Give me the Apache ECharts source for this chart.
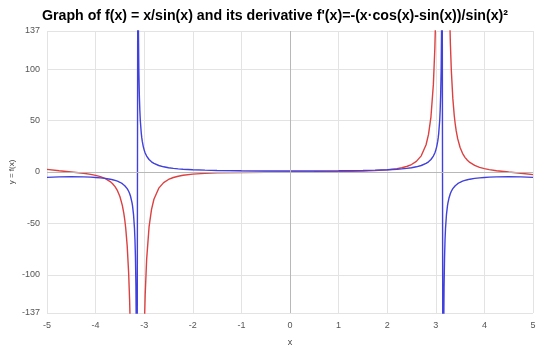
<!DOCTYPE html>
<html>
<head>
<meta charset="utf-8">
<script src="https://cdn.jsdelivr.net/npm/echarts@6/dist/echarts.min.js"></script>
<style>html,body{margin:0;padding:0;background:#fff}#c{width:550px;height:350px}</style>
</head>
<body>
<div id="c"></div>
<script>
var xValues = [-5, -4.75, -4.5, -4.25, -4.1, -4, -3.9, -3.8, -3.7, -3.65, -3.6, -3.55, -3.5, -3.45, -3.42, -3.4, -3.38, -3.35, -3.32, -3.3, -3.28, -3.27, -3.25, -3.24, -3.22, -3.2, -3.19, -3.18, -3.17, -3.16, -3.15, -3.13, -3.12, -3.11, -3.1, -3.09, -3.08, -3.06, -3.05, -3.04, -3.02, -3, -2.98, -2.95, -2.9, -2.85, -2.8, -2.7, -2.6, -2.5, -2.4, -2.3, -2.2, -2, -1.75, -1.5, -1, -0.5,
  0, 0.5, 1, 1.5, 1.75, 2, 2.2, 2.3, 2.4, 2.5, 2.6, 2.7, 2.8, 2.85, 2.9, 2.95, 2.98, 3, 3.02, 3.04, 3.05, 3.06, 3.08, 3.09, 3.1, 3.11, 3.12, 3.13, 3.15, 3.16, 3.17, 3.18, 3.19, 3.2, 3.22, 3.24, 3.25, 3.27, 3.28, 3.3, 3.32, 3.35, 3.38, 3.4, 3.42, 3.45, 3.5, 3.55, 3.6, 3.65, 3.7, 3.8, 3.9, 4, 4.1, 4.25, 4.5, 4.75, 5];

var fValues = [-5.214, -4.753, -4.604, -4.749, -5.011, -5.285, -5.671, -6.211, -6.983, -7.499, -8.135, -8.938, -9.978, -11.37, -12.44, -13.31, -14.31, -16.20, -18.71, -20.92, -23.78, -25.54, -30.04, -32.98, -41.11, -54.82, -65.92, -82.82, -111.6, -171.7, -374.7, 270.0, 144.5, 98.46, 74.55, 59.92, 50.04, 37.54, 33.35, 29.97, 24.90, 21.26, 18.51, 15.49, 12.12, 9.914, 8.359, 6.318, 5.044, 4.177, 3.553, 3.084, 2.721, 2.200, 1.778, 1.504, 1.188, 1.043,
  1, 1.043, 1.188, 1.504, 1.778, 2.200, 2.721, 3.084, 3.553, 4.177, 5.044, 6.318, 8.359, 9.914, 12.12, 15.49, 18.51, 21.26, 24.90, 29.97, 33.35, 37.54, 50.04, 59.92, 74.55, 98.46, 144.5, 270.0, -374.7, -171.7, -111.6, -82.82, -65.92, -54.82, -41.11, -32.98, -30.04, -25.54, -23.78, -20.92, -18.71, -16.20, -14.31, -13.31, -12.44, -11.37, -9.978, -8.938, -8.135, -7.499, -6.983, -6.211, -5.671, -5.285, -5.011, -4.749, -4.604, -4.753, -5.214];

var dfValues = [2.585, 1.180, 0.0303, -1.250, -2.298, -3.244, -4.531, -6.394, -9.291, -11.40, -14.23, -18.14, -23.79, -32.38, -39.90, -46.42, -54.66, -71.77, -98.11, -124.6, -163.5, -190.0, -266.8, -323.8, -510.5, -920.4, -1340, -2129, -3892, -9271, -44440, -23374, -6738, -3148, -1815, -1180, -827.6, -471.4, -374.0, -303.8, -212.0, -156.2, -119.7, -85.12, -53.37, -36.51, -26.50, -15.70, -10.32, -7.263, -5.359, -4.097, -3.218, -2.106, -1.338, -0.8959, -0.4253, -0.1768,
  0, 0.1768, 0.4253, 0.8959, 1.338, 2.106, 3.218, 4.097, 5.359, 7.263, 10.32, 15.70, 26.50, 36.51, 53.37, 85.12, 119.7, 156.2, 212.0, 303.8, 374.0, 471.4, 827.6, 1180, 1815, 3148, 6738, 23374, 44440, 9271, 3892, 2129, 1340, 920.4, 510.5, 323.8, 266.8, 190.0, 163.5, 124.6, 98.11, 71.77, 54.66, 46.42, 39.90, 32.38, 23.79, 18.14, 14.23, 11.40, 9.291, 6.394, 4.531, 3.244, 2.298, 1.250, -0.0303, -1.180, -2.585];

var yTicks = [-137, -100, -50, 0, 50, 100, 137];
var titleText = "Graph of f(x) = x/sin(x) and its derivative f'(x)=-(x\u00b7cos(x)-sin(x))/sin(x)\u00b2";

function pairs(ys) { return xValues.map(function (x, i) { return [x, ys[i]]; }); }

var chart = echarts.init(document.getElementById('c'), null, { renderer: 'canvas' });
chart.setOption({
  animation: false,
  backgroundColor: '#fff',
  title: {
    text: titleText, left: 'center', top: 4,
    textStyle: { fontFamily: 'Liberation Sans, Arial', fontWeight: 'bold', fontSize: 14.2, color: '#000' }
  },
  grid: { left: 47, right: 17, top: 31, bottom: 37, containLabel: false, outerBoundsMode: 'none' },
  xAxis: {
    type: 'value', min: -5, max: 5, interval: 1,
    name: 'x', nameLocation: 'middle', nameGap: 25,
    nameTextStyle: { fontFamily: 'Liberation Sans, Arial', fontSize: 9, color: '#444' },
    axisLine: { show: false }, axisTick: { show: false },
    axisLabel: { fontFamily: 'Liberation Sans, Arial', fontSize: 9, color: '#555', margin: 8 },
    splitLine: { show: true, lineStyle: { color: '#e3e3e3', width: 1 } }
  },
  yAxis: {
    type: 'value', min: -137, max: 137,
    name: 'y = f(x)', nameLocation: 'middle', nameGap: 31, nameMoveOverlap: false,
    nameTextStyle: { fontFamily: 'Liberation Sans, Arial', fontSize: 8, color: '#444' },
    axisLine: { show: false },
    axisTick: { show: false, customValues: yTicks },
    axisLabel: { fontFamily: 'Liberation Sans, Arial', fontSize: 9, color: '#555', margin: 7, customValues: yTicks },
    splitLine: { show: true, lineStyle: { color: '#e3e3e3', width: 1 } }
  },
  series: [
    {
      type: 'line', data: [], silent: true, z: 1,
      markLine: {
        silent: true, symbol: 'none', label: { show: false },
        lineStyle: { color: '#b8b8b8', width: 1, type: 'solid' },
        data: [{ xAxis: 0 }, { yAxis: 0 }]
      }
    },
    {
      type: 'line', data: pairs(dfValues), showSymbol: false, z: 3,
      lineStyle: { color: '#dd4040', width: 1.4 }, itemStyle: { color: '#dd4040' }
    },
    {
      type: 'line', data: pairs(fValues), showSymbol: false, z: 4,
      lineStyle: { color: '#4040dd', width: 1.4 }, itemStyle: { color: '#4040dd' }
    }
  ]
});
</script>
</body>
</html>
